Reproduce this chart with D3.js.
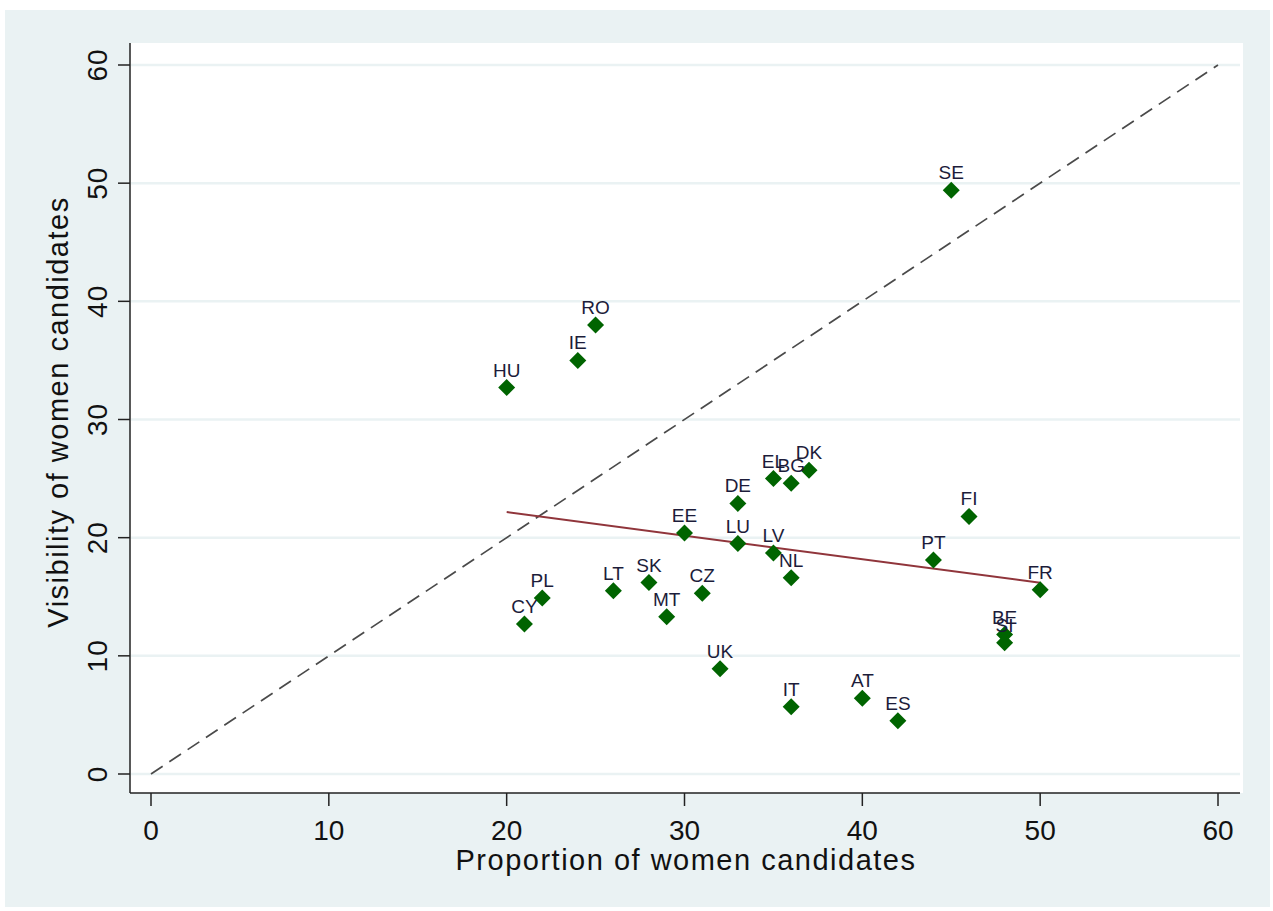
<!DOCTYPE html>
<html>
<head>
<meta charset="utf-8">
<script src="https://cdn.jsdelivr.net/npm/d3@7"></script>
<style>
  html, body { margin: 0; padding: 0; background: #ffffff; }
  svg { display: block; font-family: "Liberation Sans", Arial, sans-serif; }
</style>
</head>
<body>
<svg id="chart" width="1273" height="911"></svg>
<script>
// ---- data ----
const countries = ["SE","RO","IE","HU","EL","BG","DK","DE","FI","EE","LU","LV","PT","NL","FR","SK","LT","CZ","PL","CY","MT","BE","SI","UK","IT","AT","ES"];
const proportion = [45,25,24,20,35,36,37,33,46,30,33,35,44,36,50,28,26,31,22,21,29,48,48,32,36,40,42];
const visibility = [49.4,38.0,35.0,32.7,25.0,24.6,25.7,22.9,21.8,20.4,19.5,18.7,18.1,16.6,15.6,16.2,15.5,15.3,14.9,12.7,13.3,11.8,11.1,8.9,5.7,6.4,4.5];
const xTicks = [0,10,20,30,40,50,60];
const yTicks = [0,10,20,30,40,50,60];
const diagonal = [0,60];
const xTitle = "Proportion of women candidates";
const yTitle = "Visibility of women candidates";

const svg = d3.select("#chart");

// outer graph region
svg.append("rect").attr("x",5).attr("y",10).attr("width",1265).attr("height",897).attr("fill","#eaf2f3");
// plot region
svg.append("rect").attr("x",130).attr("y",43).attr("width",1113).attr("height",750).attr("fill","#ffffff");

const x = d3.scaleLinear().domain([0,60]).range([151,1218]);
const y = d3.scaleLinear().domain([0,60]).range([774,65]);

// gridlines
svg.append("g").selectAll("line").data(yTicks).join("line")
  .attr("x1",131).attr("x2",1240)
  .attr("y1",d=>y(d)).attr("y2",d=>y(d))
  .attr("stroke","#eaf2f3").attr("stroke-width",2.5);

// diagonal reference y = x
svg.append("line")
  .attr("x1",x(diagonal[0])).attr("y1",y(diagonal[0]))
  .attr("x2",x(diagonal[1])).attr("y2",y(diagonal[1]))
  .attr("stroke","#4a4a4a").attr("stroke-width",1.7).attr("stroke-dasharray","14,8");

// linear fit
const n = proportion.length;
const mx = d3.mean(proportion), my = d3.mean(visibility);
let sxy = 0, sxx = 0;
for (let i=0;i<n;i++){ sxy += (proportion[i]-mx)*(visibility[i]-my); sxx += (proportion[i]-mx)**2; }
const slope = sxy/sxx, intercept = my - slope*mx;
const [x0,x1] = d3.extent(proportion);
svg.append("line")
  .attr("x1",x(x0)).attr("y1",y(intercept+slope*x0))
  .attr("x2",x(x1)).attr("y2",y(intercept+slope*x1))
  .attr("stroke","#90353b").attr("stroke-width",2);

// axes lines
svg.append("line").attr("x1",130).attr("x2",130).attr("y1",43).attr("y2",793).attr("stroke","#222").attr("stroke-width",1.5);
svg.append("line").attr("x1",130).attr("x2",1240).attr("y1",793).attr("y2",793).attr("stroke","#222").attr("stroke-width",1.5);

// x ticks
const xg = svg.append("g");
xg.selectAll("line").data(xTicks).join("line")
  .attr("x1",d=>x(d)).attr("x2",d=>x(d)).attr("y1",793).attr("y2",806)
  .attr("stroke","#222").attr("stroke-width",1.5);
xg.selectAll("text").data(xTicks).join("text")
  .attr("x",d=>x(d)).attr("y",840).attr("text-anchor","middle")
  .attr("font-size",28).attr("fill","#111").text(d=>d);

// y ticks
const yg = svg.append("g");
yg.selectAll("line").data(yTicks).join("line")
  .attr("x1",118).attr("x2",130).attr("y1",d=>y(d)).attr("y2",d=>y(d))
  .attr("stroke","#222").attr("stroke-width",1.5);
yg.selectAll("text").data(yTicks).join("text")
  .attr("transform",d=>`translate(107,${y(d)}) rotate(-90)`)
  .attr("text-anchor","middle").attr("letter-spacing","1px")
  .attr("font-size",28).attr("fill","#111").text(d=>d);

// axis titles
svg.append("text").attr("x",686).attr("y",870).attr("text-anchor","middle")
  .attr("font-size",29).attr("letter-spacing","1.5px").attr("fill","#111").text(xTitle);
svg.append("text").attr("transform","translate(68,412) rotate(-90)").attr("text-anchor","middle")
  .attr("font-size",29).attr("letter-spacing","1.5px").attr("fill","#111").text(yTitle);

// markers
const pts = countries.map((c,i)=>({c, px:x(proportion[i]), py:y(visibility[i])}));
const r = 8.5;
svg.append("g").selectAll("path").data(pts).join("path")
  .attr("d",d=>`M${d.px},${d.py-r}L${d.px+r},${d.py}L${d.px},${d.py+r}L${d.px-r},${d.py}Z`)
  .attr("fill","#006400");
svg.append("g").selectAll("text").data(pts).join("text")
  .attr("x",d=>d.px).attr("y",d=>d.py-11).attr("text-anchor","middle")
  .attr("font-size",19).attr("fill","#1c1c3a").text(d=>d.c);
</script>
</body>
</html>
